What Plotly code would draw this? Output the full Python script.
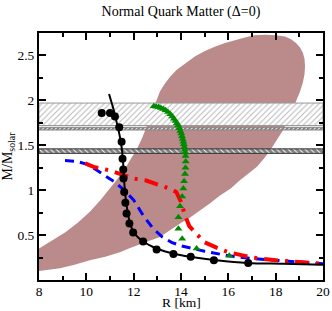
import plotly.graph_objects as go

# ---------------- data ----------------
title_text = "Normal Quark Matter (Δ=0)"
x_title = "R [km]"
y_title = "M/M<sub>solar</sub>"

# constraint region (brown) boundary
region_R = [8.0, 8.5, 8.89, 9.5, 10.15, 10.8, 11.42, 11.85, 12.27, 12.7, 13.11, 13.5, 13.96, 14.4, 14.80, 15.2,
            15.65, 16.1, 16.49, 16.85, 17.21, 17.5, 17.76, 18.0, 18.27, 18.5, 18.69, 18.87, 19.03, 19.15, 19.22,
            19.24, 19.22, 19.15, 19.02, 18.86, 18.65, 18.39, 18.0, 17.55, 17.1, 16.70, 16.3, 15.86, 15.45,
            15.01, 14.6, 14.17, 13.82, 13.53, 13.3, 13.11, 12.95, 12.82, 12.67, 12.52, 12.34, 12.14, 11.9,
            11.63, 11.33, 11.0, 10.6, 10.15, 9.65, 9.10, 8.55, 8.0]
region_M = [0.10, 0.115, 0.13, 0.17, 0.22, 0.26, 0.31, 0.355, 0.40, 0.44, 0.48, 0.55, 0.63, 0.70, 0.77, 0.85,
            0.94, 1.02, 1.11, 1.18, 1.26, 1.35, 1.44, 1.54, 1.65, 1.76, 1.88, 1.99, 2.10, 2.20, 2.29,
            2.38, 2.46, 2.53, 2.59, 2.64, 2.68, 2.71, 2.725, 2.73, 2.725, 2.70, 2.675, 2.64, 2.60,
            2.55, 2.49, 2.41, 2.34, 2.26, 2.18, 2.10, 2.00, 1.90, 1.79, 1.68, 1.57, 1.46, 1.35,
            1.24, 1.13, 1.02, 0.89, 0.76, 0.64, 0.53, 0.44, 0.35]

# observed-mass bands
band1 = (1.72, 1.97)
band2 = (1.67, 1.70)
band3 = (1.41, 1.46)
band_R = (8.0, 20.0)

# black solid curve
black_line_R = [10.96, 11.05, 11.14, 11.23, 11.31, 11.39, 11.45, 11.50, 11.53, 11.56, 11.58, 11.61, 11.65, 11.72,
                11.82, 11.98, 12.20, 12.45, 12.80, 13.30, 13.90, 14.60, 15.50, 16.80, 18.30, 20.0]
black_line_M = [2.07, 1.99, 1.91, 1.82, 1.72, 1.63, 1.55, 1.46, 1.38, 1.28, 1.18, 1.06, 0.94, 0.80,
                0.66, 0.54, 0.47, 0.42, 0.37, 0.32, 0.28, 0.25, 0.22, 0.19, 0.18, 0.17]

# black circles
black_pts_R = [10.65, 11.0, 11.21, 11.39, 11.49, 11.53, 11.56, 11.57, 11.60, 11.65, 11.70, 11.82, 11.98, 12.40,
               12.97, 13.68, 14.41, 15.39, 16.84]
black_pts_M = [1.86, 1.86, 1.82, 1.70, 1.54, 1.35, 1.23, 1.13, 0.98, 0.86, 0.74, 0.63, 0.53, 0.43,
               0.34, 0.29, 0.26, 0.22, 0.19]

# green triangles
green_R = [12.85, 12.95, 13.05, 13.15, 13.25, 13.35, 13.45, 13.55, 13.63, 13.70, 13.77, 13.83, 13.88, 13.93,
           13.97, 14.01, 14.04, 14.07, 14.10, 14.12, 14.14, 14.16, 14.17, 14.19, 14.20, 14.19, 14.17, 14.13,
           14.10, 14.05, 13.96, 13.89, 13.89, 14.05, 14.66, 16.04]
green_M = [1.935, 1.93, 1.925, 1.915, 1.905, 1.89, 1.87, 1.845, 1.82, 1.795, 1.77, 1.745, 1.72, 1.69,
           1.66, 1.63, 1.60, 1.57, 1.54, 1.51, 1.48, 1.45, 1.42, 1.38, 1.32, 1.25, 1.18, 1.10,
           1.02, 0.93, 0.82, 0.70, 0.57, 0.46, 0.35, 0.27]

# red dash-dot curve
red_R = [9.95, 10.3, 11.0, 11.5, 12.0, 12.5, 13.0, 13.5, 13.8, 14.0, 14.17, 14.35, 14.7, 15.0, 15.5, 16.0,
         16.5, 17.0, 18.0, 19.0, 20.0]
red_M = [1.30, 1.26, 1.22, 1.17, 1.13, 1.11, 1.07, 1.02, 0.98, 0.87, 0.72, 0.60, 0.50, 0.42, 0.36, 0.31,
         0.28, 0.25, 0.22, 0.20, 0.18]

# blue dashed curve
blue_R = [9.1, 9.6, 10.0, 10.4, 10.8, 11.2, 11.6, 12.0, 12.4, 12.8, 13.2, 13.6, 14.0, 14.5, 15.0, 16.0,
          17.0, 18.0, 19.0, 20.0]
blue_M = [1.33, 1.32, 1.29, 1.23, 1.16, 1.09, 1.00, 0.89, 0.72, 0.58, 0.48, 0.42, 0.38, 0.35, 0.32, 0.27,
          0.24, 0.22, 0.20, 0.18]

x_range = [8, 20]
y_range = [0, 2.75]
x_ticks = [8, 10, 12, 14, 16, 18, 20]
y_ticks = [0.5, 1, 1.5, 2, 2.5]
y_ticktext = ["0.5", "1", "1.5", "2", "2.5"]

# ---------------- figure ----------------
FONT = "Liberation Serif, Times New Roman, serif"
fig = go.Figure()

fig.add_trace(go.Scatter(x=region_R, y=region_M, mode="lines", fill="toself",
                         fillcolor="#bb8b8b", line=dict(color="#bb8b8b", width=0),
                         hoverinfo="skip", showlegend=False))


def band(lo_hi, shape, fg, size, solidity, border):
    lo, hi = lo_hi
    fig.add_trace(go.Scatter(
        x=[band_R[0], band_R[1], band_R[1], band_R[0], band_R[0]],
        y=[lo, lo, hi, hi, lo], mode="lines", fill="toself", fillcolor="white",
        fillpattern=dict(shape=shape, fgcolor=fg, bgcolor="white", size=size, solidity=solidity),
        line=dict(color=border, width=1), hoverinfo="skip", showlegend=False))


band(band1, "/", "#707070", 4, 0.25, "#999999")
band(band2, "/", "#000000", 3, 0.7, "#888888")
band(band3, "\\", "#000000", 4, 0.75, "#333333")

fig.add_trace(go.Scatter(x=blue_R, y=blue_M, mode="lines",
                         line=dict(color="#0000ff", width=3, dash="9px,6px"), showlegend=False))
fig.add_trace(go.Scatter(x=red_R, y=red_M, mode="lines",
                         line=dict(color="#ff0000", width=4, dash="14px,7px,3px,7px"), showlegend=False))
fig.add_trace(go.Scatter(x=black_line_R, y=black_line_M, mode="lines",
                         line=dict(color="black", width=2, shape="spline"), showlegend=False))
fig.add_trace(go.Scatter(x=black_pts_R, y=black_pts_M, mode="markers",
                         marker=dict(color="black", size=8, symbol="circle"), showlegend=False))
fig.add_trace(go.Scatter(x=green_R, y=green_M, mode="markers",
                         marker=dict(color="#008a00", size=7, symbol="triangle-up"), showlegend=False))

axis_common = dict(showline=True, linecolor="black", linewidth=2, mirror="allticks",
                   ticks="inside", ticklen=7, tickwidth=1.5, tickcolor="black",
                   showgrid=False, zeroline=False,
                   tickfont=dict(family=FONT, size=13.5, color="black"))

fig.update_xaxes(range=x_range, tickvals=x_ticks, ticktext=[str(v) for v in x_ticks],
                 minor=dict(dtick=1, tick0=8, ticks="inside", ticklen=4, tickcolor="black", tickwidth=1.5),
                 ticklabelstandoff=-2,
                 automargin=False, **axis_common)
fig.update_yaxes(range=y_range, tickvals=y_ticks, ticktext=y_ticktext,
                 minor=dict(dtick=0.25, tick0=0, ticks="inside", ticklen=4, tickcolor="black", tickwidth=1.5),
                 title=dict(text=y_title, font=dict(family=FONT, size=14, color="black"), standoff=2),
                 automargin=False, **axis_common)

fig.add_annotation(text=x_title, xref="paper", yref="paper", x=0.5, y=-0.093,
                   xanchor="center", yanchor="middle", showarrow=False,
                   font=dict(family=FONT, size=13.5, color="black"))

fig.update_layout(
    width=332, height=311,
    margin=dict(l=39, r=9, t=33, b=31),
    paper_bgcolor="white", plot_bgcolor="white",
    title=dict(text=title_text, x=0.545, xanchor="center", y=0.965, yanchor="middle",
               font=dict(family=FONT, size=14, color="black")),
)

fig.write_html("out.html", config={"displayModeBar": False},
               post_script="document.body.style.margin='0px';document.body.style.overflow='hidden';")
